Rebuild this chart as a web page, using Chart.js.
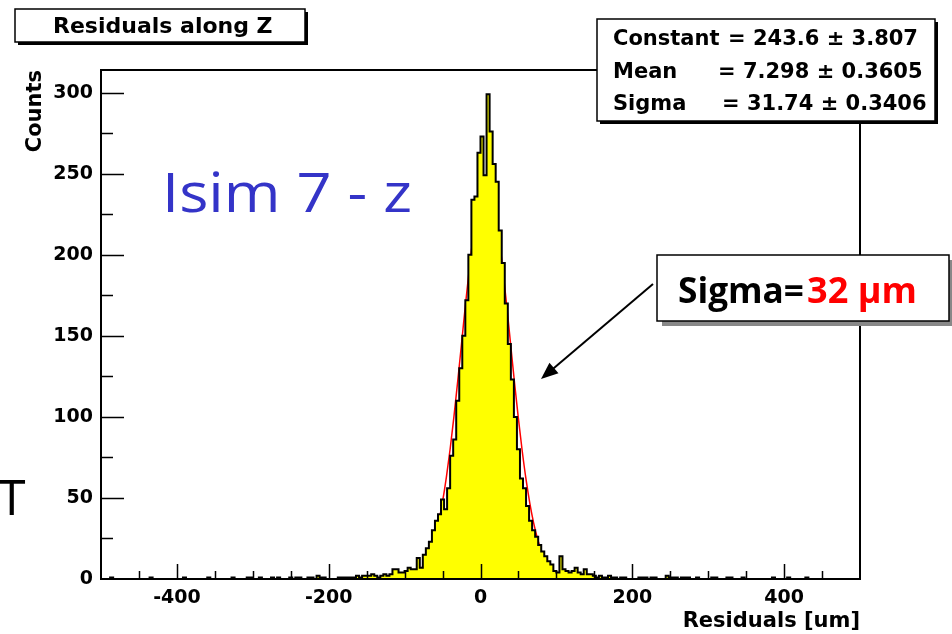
<!DOCTYPE html>
<html>
<head>
<meta charset="utf-8">
<script src="https://cdn.jsdelivr.net/npm/chart.js@4.4.1/dist/chart.umd.min.js"></script>
<style>
  html, body { margin: 0; padding: 0; background: #fff; }
  #wrap { width: 952px; height: 634px; }
</style>
</head>
<body>
<div id="wrap"><canvas id="chartResidZ" width="952" height="634"></canvas></div>
<script>
// histogram: 250 bins of 4 um between -500 and 500
const binStart = -500;
const binWidth = 4;
const counts = [
  // -500 .. -400
  0,0,0,1,0, 0,0,0,0,0, 0,0,0,0,0, 0,1,0,0,0, 0,0,0,0,0,
  // -400 .. -300
  0,0,1,0,0, 0,0,0,0,0, 1,0,0,0,0, 0,0,0,1,0, 0,0,0,1,1,
  // -300 .. -200
  0,0,1,0,0, 0,1,0,1,0, 0,0,1,0,1, 1,0,0,1,1, 0,2,1,1,0,
  // -200 .. -100
  0,0,0,1,1, 1,1,1,1,2, 1,2,2,2,3, 2,1,2,3,2, 3,6,6,4,4,
  // -100 .. 0
  5,7,6,6,13, 7,15,19,23,30, 36,40,49,43,56, 76,86,110,130,150, 172,200,234,236,263,
  // 0 .. 100
  273,249,299,276,256, 245,215,195,170,145, 123,100,80,62,56, 45,36,30,26,21, 17,14,11,9,5,
  // 100 .. 200
  4,14,6,5,4, 5,7,4,3,6, 3,3,2,1,2, 1,1,2,1,1, 0,1,1,0,0,
  // 200 .. 300
  0,0,1,1,1, 0,1,1,0,0, 0,2,1,1,1, 0,1,1,1,0, 0,1,0,0,0,
  // 300 .. 400
  0,1,1,0,0, 0,1,1,0,0, 0,1,0,0,0, 0,0,0,0,0, 0,1,0,0,0,
  // 400 .. 500
  0,1,0,0,0, 0,0,1,0,0, 0,0,0,0,0, 0,0,0,0,0, 0,0,0,0,0
];

// gaussian fit curve
const fitX = [-100,-95,-90,-85,-80,-75,-70,-65,-60,-55,-50,-45,-40,-35,-30,-25,-20,-15,-10,-5,
              0,5,10,15,20,25,30,35,40,45,50,55,60,65,70,75,80,85,90,95,100,105,110,115];
const fitY = [0.80,1.35,2.22,3.55,5.54,8.45,12.6,18.2,25.7,35.5,47.7,62.7,80.2,100.2,122.1,145.1,168.3,190.3,210.0,226.0,
              237.2,243.0,242.7,236.5,224.9,208.5,188.6,166.5,143.3,120.3,98.6,78.8,61.4,46.7,34.6,25.0,17.7,12.2,8.17,5.35,3.42,2.13,1.30,0.77];

const xTickValues = [-400, -200, 0, 200, 400];
const yTickValues = [0, 50, 100, 150, 200, 250, 300];

const statNames = ['Constant', 'Mean', 'Sigma'];
const statValues = ['243.6', '7.298', '31.74'];
const statErrors = ['3.807', '0.3605', '0.3406'];

const histPoints = counts.map((c, i) => ({ x: binStart + i * binWidth, y: c }));
histPoints.push({ x: binStart + counts.length * binWidth, y: counts[counts.length - 1] });
const fitPoints = fitX.map((v, i) => ({ x: v, y: fitY[i] }));

const fontMain = 'DejaVu Sans';

// frame with inward ticks like ROOT
const frameTicks = {
  id: 'frameTicks',
  afterDatasetsDraw(chart) {
    const { ctx, chartArea: a, scales: { x, y } } = chart;
    ctx.save();
    ctx.strokeStyle = '#000';
    ctx.lineWidth = 2;
    ctx.strokeRect(a.left, a.top, a.right - a.left, a.bottom - a.top);
    ctx.lineWidth = 1.5;
    ctx.beginPath();
    for (let v = -450; v <= 450; v += 50) {
      const px = Math.round(x.getPixelForValue(v)) + 0.5;
      const len = xTickValues.includes(v) ? 15 : 8;
      ctx.moveTo(px, a.bottom);
      ctx.lineTo(px, a.bottom - len);
    }
    for (let v = 25; v <= 300; v += 25) {
      const py = Math.round(y.getPixelForValue(v)) + 0.5;
      const len = yTickValues.includes(v) ? 23 : 12;
      ctx.moveTo(a.left, py);
      ctx.lineTo(a.left + len, py);
    }
    ctx.stroke();
    ctx.restore();
  }
};

function shadowBox(ctx, x, y, w, h, shade, off) {
  ctx.fillStyle = shade;
  ctx.fillRect(x + off, y + off, w, h);
  ctx.fillStyle = '#fff';
  ctx.fillRect(x, y, w, h);
  ctx.strokeStyle = '#000';
  ctx.lineWidth = 1.5;
  ctx.strokeRect(x, y, w, h);
  ctx.fillStyle = '#000';
}

function fitText(ctx, text, x, y, width) {
  const w = ctx.measureText(text).width;
  ctx.save();
  ctx.translate(x, y);
  ctx.scale(width / w, 1);
  ctx.fillText(text, 0, 0);
  ctx.restore();
}

const annotations = {
  id: 'annotations',
  afterDraw(chart) {
    const ctx = chart.ctx;
    ctx.save();
    ctx.textBaseline = 'alphabetic';
    ctx.textAlign = 'left';

    // title box
    shadowBox(ctx, 15, 9, 290, 33, '#000', 3);
    ctx.font = 'bold 22px "' + fontMain + '"';
    ctx.fillText('Residuals along Z', 53, 33);

    // fit statistics box
    shadowBox(ctx, 597, 19, 338, 102, '#000', 3);
    ctx.font = 'bold 21px "' + fontMain + '"';
    const eqX = [728, 718, 722];
    const baseY = [45, 77.5, 110];
    statNames.forEach((n, i) => {
      ctx.fillText(n, 613, baseY[i]);
      ctx.fillText('= ' + statValues[i] + ' \u00b1 ' + statErrors[i], eqX[i], baseY[i]);
    });

    // handwritten label
    ctx.fillStyle = '#3434c8';
    ctx.font = '55px "Open Sans"';
    fitText(ctx, 'Isim 7 - z', 162, 212, 250);

    ctx.fillStyle = '#000';
    ctx.font = '50px "Open Sans"';
    ctx.fillText('T', -2, 515);

    // sigma callout
    shadowBox(ctx, 657, 255, 292, 66, '#888', 5);
    ctx.font = 'bold 36px "Open Sans"';
    fitText(ctx, 'Sigma=', 678, 303, 126);
    ctx.fillStyle = '#ff0000';
    fitText(ctx, '32 \u03bcm', 807, 303, 110);

    // arrow
    const x0 = 653, y0 = 284, x1 = 541, y1 = 379;
    const ang = Math.atan2(y1 - y0, x1 - x0);
    ctx.strokeStyle = '#000';
    ctx.lineWidth = 2;
    ctx.beginPath();
    ctx.moveTo(x0, y0);
    ctx.lineTo(x1 - 12 * Math.cos(ang), y1 - 12 * Math.sin(ang));
    ctx.stroke();
    ctx.fillStyle = '#000';
    ctx.beginPath();
    ctx.moveTo(x1, y1);
    ctx.lineTo(x1 - 17 * Math.cos(ang) + 7 * Math.sin(ang), y1 - 17 * Math.sin(ang) - 7 * Math.cos(ang));
    ctx.lineTo(x1 - 17 * Math.cos(ang) - 7 * Math.sin(ang), y1 - 17 * Math.sin(ang) + 7 * Math.cos(ang));
    ctx.closePath();
    ctx.fill();
    ctx.restore();
  }
};

new Chart(document.getElementById('chartResidZ'), {
  type: 'line',
  data: {
    datasets: [{
      label: 'Residuals along Z',
      data: histPoints,
      stepped: 'before',
      borderColor: '#000',
      borderWidth: 2,
      backgroundColor: '#ffff00',
      fill: 'origin',
      pointRadius: 0
    }, {
      label: 'Gaussian fit',
      data: fitPoints,
      borderColor: '#ff0000',
      borderWidth: 1.5,
      cubicInterpolationMode: 'monotone',
      fill: false,
      pointRadius: 0
    }]
  },
  options: {
    responsive: false,
    animation: false,
    devicePixelRatio: 1,
    layout: { padding: { left: 0, right: 92, top: 70, bottom: 0 } },
    plugins: { legend: { display: false }, tooltip: { enabled: false } },
    scales: {
      x: {
        type: 'linear',
        min: -500,
        max: 500,
        afterBuildTicks: s => { s.ticks = xTickValues.map(v => ({ value: v })); },
        afterFit: s => { s.height = 55; },
        grid: { display: false, drawTicks: false },
        border: { display: false },
        ticks: {
          color: '#000', padding: 8, maxRotation: 0, autoSkip: false,
          font: { family: fontMain, size: 19, weight: 'bold' }
        },
        title: {
          display: true, text: 'Residuals [um]', align: 'end', color: '#000',
          padding: { top: 0, bottom: 0 },
          font: { family: fontMain, size: 21, weight: 'bold' }
        }
      },
      y: {
        type: 'linear',
        min: 0,
        max: 314,
        afterBuildTicks: s => { s.ticks = yTickValues.map(v => ({ value: v })); },
        afterFit: s => { s.width = 101; },
        grid: { display: false, drawTicks: false },
        border: { display: false },
        ticks: {
          color: '#000', padding: 8,
          font: { family: fontMain, size: 19, weight: 'bold' }
        },
        title: {
          display: true, text: 'Counts', align: 'end', color: '#000',
          padding: { top: 23, bottom: 0 },
          font: { family: fontMain, size: 21, weight: 'bold' }
        }
      }
    }
  },
  plugins: [frameTicks, annotations]
});
</script>
</body>
</html>
